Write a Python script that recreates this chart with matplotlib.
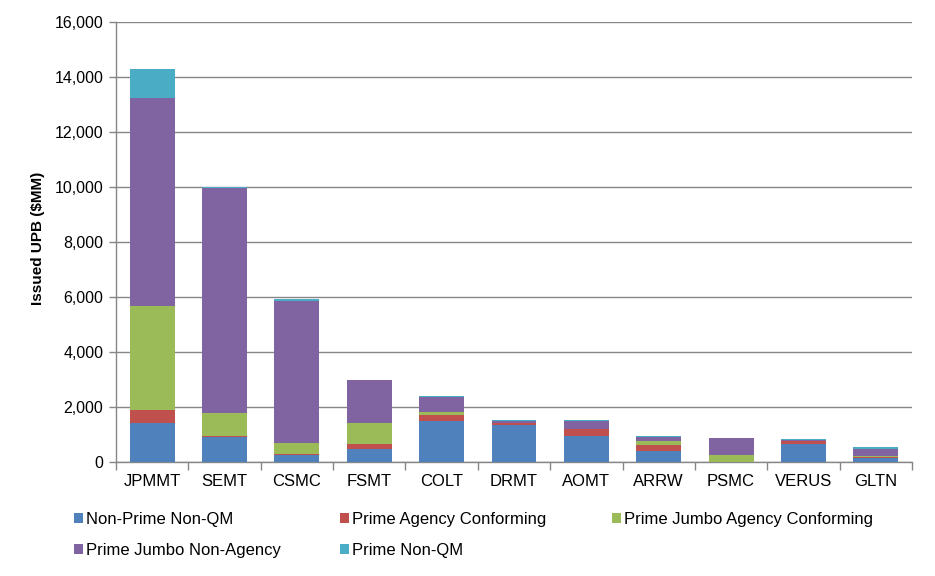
import numpy as np
from matplotlib import pyplot as plt

plt.rcParams['font.family'] = ['Liberation Sans', 'DejaVu Sans']

# shelf names and issued UPB ($MM) per collateral type
shelves = ['JPMMT', 'SEMT', 'CSMC', 'FSMT', 'COLT', 'DRMT', 'AOMT', 'ARRW', 'PSMC', 'VERUS', 'GLTN']
non_prime_non_qm = [1430, 897, 242, 461, 1479, 1333, 957, 412, 0, 671, 158]
prime_agency_conf = [473, 61, 37, 206, 242, 73, 243, 218, 0, 110, 36]
prime_jumbo_agency_conf = [3782, 836, 424, 763, 109, 0, 0, 146, 268, 0, 24]
prime_jumbo_non_agency = [7563, 8182, 5163, 1564, 546, 97, 303, 145, 610, 36, 255]
prime_non_qm = [1054, 36, 49, 0, 36, 36, 36, 36, 0, 25, 73]

series = [
    ('Non-Prime Non-QM', non_prime_non_qm, '#4F81BD'),
    ('Prime Agency Conforming', prime_agency_conf, '#C0504D'),
    ('Prime Jumbo Agency Conforming', prime_jumbo_agency_conf, '#9BBB59'),
    ('Prime Jumbo Non-Agency', prime_jumbo_non_agency, '#8064A2'),
    ('Prime Non-QM', prime_non_qm, '#4BACC6'),
]

W, H = 935, 576
fig = plt.figure(figsize=(W / 100, H / 100), dpi=100)
ax = fig.add_axes([116 / W, 1 - 462 / H, (912 - 116) / W, (462 - 22) / H])

x = np.arange(len(shelves))
bottom = np.zeros(len(shelves))
handles = []
for name, vals, col in series:
    vals = np.array(vals, dtype=float)
    b = ax.bar(x, vals, width=0.62, bottom=bottom, color=col, label=name, zorder=3)
    handles.append(b)
    bottom += vals

grid_col = '#868686'
ax.set_ylim(0, 16000)
ax.set_xlim(-0.5, len(shelves) - 0.5)
ax.set_yticks(np.arange(0, 16001, 2000))
ax.set_yticklabels([f'{v:,}' for v in range(0, 16001, 2000)], fontsize=11.5)
ax.yaxis.grid(True, color=grid_col, linewidth=1, zorder=0)
ax.set_axisbelow(True)

# category labels centered, tick marks between categories
ax.set_xticks(x)
ax.set_xticklabels(shelves, fontsize=12)
ax.tick_params(axis='x', length=0, pad=9)
ax.set_xticks(np.arange(-0.5, len(shelves)), minor=True)
ax.tick_params(axis='x', which='minor', length=6, color=grid_col, width=1)
ax.tick_params(axis='y', length=5, color=grid_col, width=1, pad=4)

for s in ['top', 'right']:
    ax.spines[s].set_visible(False)
for s in ['left', 'bottom']:
    ax.spines[s].set_color(grid_col)
    ax.spines[s].set_linewidth(1)

ax.set_ylabel('Issued UPB ($MM)', fontsize=11, fontweight='bold')
ax.yaxis.set_label_coords((45 - 116) / 796, (462 - 238) / 440)

# legend laid out in three columns, one legend per column
columns = [([0, 3], 74), ([1, 4], 340), ([2], 612)]
for idx, left in columns:
    fig.legend([handles[i] for i in idx], [series[i][0] for i in idx],
               loc='upper left', bbox_to_anchor=(left / W, 1 - 512 / H),
               frameon=False, fontsize=12, handlelength=0.55, handleheight=0.55,
               handletextpad=0.2, labelspacing=0.95, borderpad=0, borderaxespad=0)

plt.savefig('out.png', dpi=100)
